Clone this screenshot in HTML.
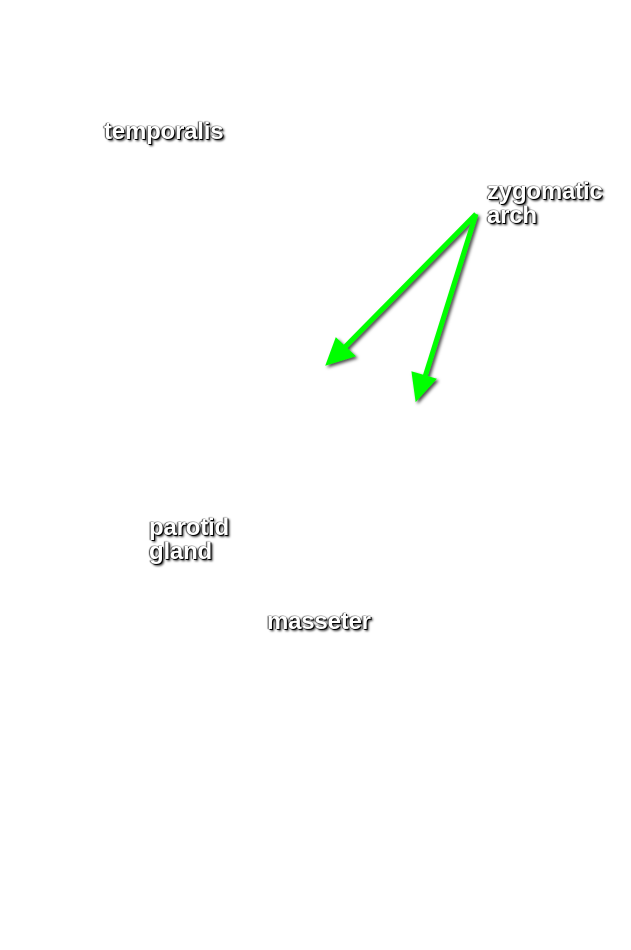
<!DOCTYPE html>
<html><head><style>
body{margin:0;width:631px;height:950px;background:#fff;position:relative;overflow:hidden}
.t{position:absolute;font-family:"Liberation Sans",sans-serif;font-weight:bold;font-size:24px;line-height:24px;color:#fff;letter-spacing:-0.2px;text-shadow:1px 1px 0 #000,2px 2px 2px #333,0 0 1px #000,-1px 0 1px #555}
svg{position:absolute;left:0;top:0}
</style></head><body>
<svg width="631" height="950">
<defs><filter id="s"><feDropShadow dx="2" dy="2" stdDeviation="1.5" flood-color="#000" flood-opacity="0.7"/></filter></defs>
<g filter="url(#s)" fill="#00ff00" stroke="#00ff00">
<line x1="476" y1="214" x2="343" y2="349" stroke-width="5"/>
<polygon points="326,365 336,338 355,356" stroke-width="1"/>
<line x1="476" y1="214" x2="424" y2="380" stroke-width="5"/>
<polygon points="416,401 412,372 436,379" stroke-width="1"/>
</g>
</svg>
<div class="t" style="left:104px;top:120px">temporalis</div>
<div class="t" style="left:487px;top:180px">zygomatic<br>arch</div>
<div class="t" style="left:149px;top:516px">parotid<br>gland</div>
<div class="t" style="left:267px;top:610px">masseter</div>
</body></html>
